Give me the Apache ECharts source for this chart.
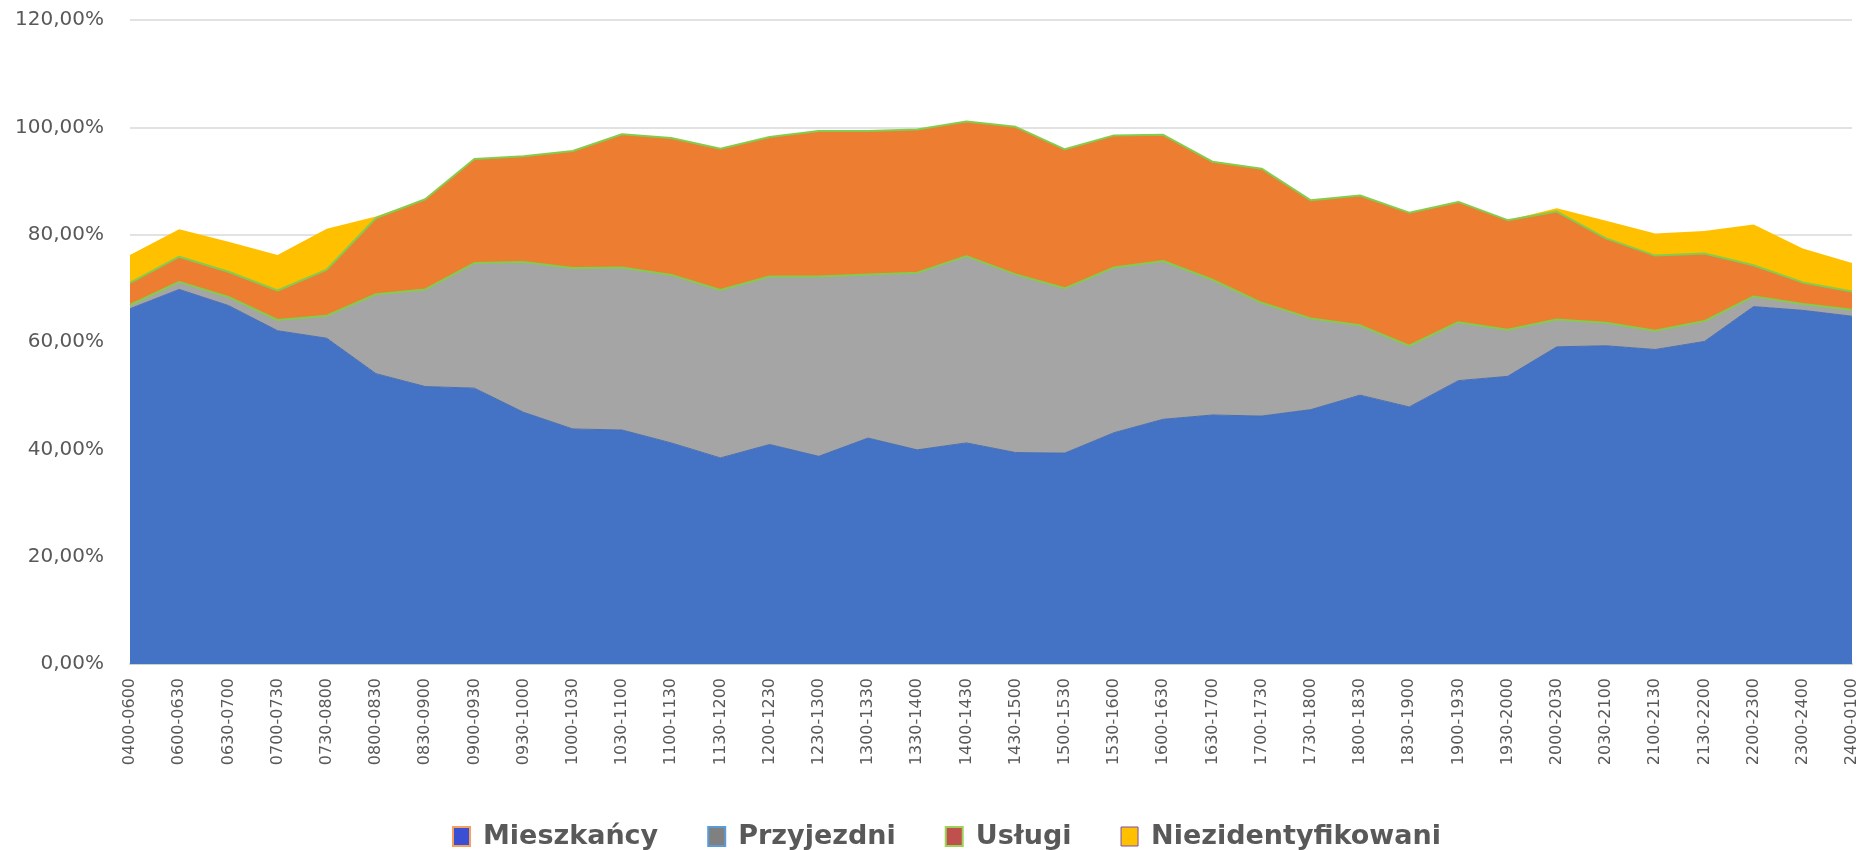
<!DOCTYPE html>
<html>
   <head>
      <meta charset="utf-8">
      <script type="text/javascript" src="https://cdn.jsdelivr.net/npm/echarts@6.0.0/dist/echarts.min.js"></script>
      <title>Struktura obecnych</title>
      <style>
         html, body { margin: 0; padding: 0; background: #ffffff; }
      </style>
   </head>
   <body>
      <div id="chart" style="width:1872px;height:850px"></div>
      <script type="text/javascript">
         // przedzialy czasowe (os X)
         var hours = ["0400-0600", "0600-0630", "0630-0700", "0700-0730", "0730-0800", "0800-0830",
            "0830-0900", "0900-0930", "0930-1000", "1000-1030", "1030-1100", "1100-1130",
            "1130-1200", "1200-1230", "1230-1300", "1300-1330", "1330-1400", "1400-1430",
            "1430-1500", "1500-1530", "1530-1600", "1600-1630", "1630-1700", "1700-1730",
            "1730-1800", "1800-1830", "1830-1900", "1900-1930", "1930-2000", "2000-2030",
            "2030-2100", "2100-2130", "2130-2200", "2200-2300", "2300-2400", "2400-0100"];

         // udzialy w %
         var mieszkancy = [66.2, 69.8, 66.8, 62.1, 60.7, 54.1, 51.7, 51.4, 46.9, 43.8, 43.6, 41.2,
            38.4, 40.9, 38.7, 42.1, 39.9, 41.2, 39.4, 39.3, 43.1, 45.6, 46.4, 46.2,
            47.4, 50.1, 47.9, 52.8, 53.6, 59.1, 59.3, 58.6, 60.1, 66.6, 65.9, 64.8];
         var przyjezdni = [0.7, 1.4, 1.6, 2.0, 4.2, 14.8, 18.1, 23.3, 28.0, 30.0, 30.3, 31.3,
            31.3, 31.3, 33.5, 30.5, 33.0, 34.8, 33.2, 30.7, 30.8, 29.5, 25.2, 21.1,
            17.0, 13.0, 11.4, 10.9, 8.7, 5.1, 4.3, 3.5, 3.8, 1.9, 1.2, 1.2];
         var uslugi = [4.1, 4.7, 4.7, 5.5, 8.6, 14.2, 16.8, 19.4, 19.7, 21.8, 24.8, 25.5,
            26.3, 26.0, 27.1, 26.7, 26.7, 25.1, 27.5, 25.9, 24.6, 23.5, 22.0, 25.0,
            22.0, 24.2, 24.8, 22.4, 20.4, 20.1, 15.7, 14.0, 12.6, 5.8, 4.0, 3.4];
         var niezidentyfikowani = [5.2, 5.1, 5.6, 6.6, 7.6, 0.3, 0, 0, 0, 0, 0, 0,
            0, 0, 0, 0, 0, 0, 0, 0, 0, 0, 0, 0,
            0, 0, 0, 0, 0, 0.6, 3.3, 4.1, 4.2, 7.6, 6.3, 5.3];

         var yTicks = [0, 20, 40, 60, 80, 100, 120];

         var green = "#84cc4e";
         var textColor = "#595959";

         function areaSeries(name, data, color, line){
            return {
               name: name,
               type: "line",
               stack: "total",
               data: data,
               symbol: "none",
               showSymbol: false,
               smooth: false,
               itemStyle: {color: color},
               lineStyle: line,
               areaStyle: {color: color, opacity: 1},
               emphasis: {disabled: true}
            };
         }

         var myChart = echarts.init(document.getElementById("chart"));
         var option = {
            animation: false,
            backgroundColor: "#ffffff",
            grid: {left: 130, right: 20, top: 20, bottom: 186},
            legend: {
               left: 447,
               top: 818,
               itemGap: 49,
               itemWidth: 17,
               itemHeight: 19,
               icon: "rect",
               textStyle: {
                  fontFamily: "DejaVu Sans",
                  fontWeight: "bold",
                  fontSize: 27,
                  color: textColor,
                  padding: [0, 0, 0, 8]
               },
               data: [
                  {name: "Mieszkańcy", itemStyle: {color: "#3b4fd4", borderColor: "#f4a15d", borderWidth: 2}},
                  {name: "Przyjezdni", itemStyle: {color: "#808080", borderColor: "#5b9bd5", borderWidth: 2}},
                  {name: "Usługi", itemStyle: {color: "#c0504d", borderColor: "#9bd35a", borderWidth: 2}},
                  {name: "Niezidentyfikowani", itemStyle: {color: "#ffc000", borderColor: "#7a4fb0", borderWidth: 1}}
               ]
            },
            xAxis: {
               type: "category",
               data: hours,
               boundaryGap: false,
               axisTick: {show: false},
               axisLine: {lineStyle: {color: "#c9d6c6", width: 2}},
               axisLabel: {
                  rotate: 90,
                  interval: 0,
                  margin: 14,
                  fontFamily: "DejaVu Sans",
                  fontSize: 16,
                  color: textColor
               }
            },
            yAxis: {
               type: "value",
               min: yTicks[0],
               max: yTicks[yTicks.length - 1],
               interval: 20,
               axisLine: {show: false},
               axisTick: {show: false},
               splitLine: {lineStyle: {color: "#d9d9d9", width: 1.5}},
               axisLabel: {
                  margin: 26,
                  fontFamily: "DejaVu Sans",
                  fontSize: 20,
                  color: textColor,
                  formatter: function(v){
                     return v.toFixed(2).replace(".", ",") + "%";
                  }
               }
            },
            series: [
               areaSeries("Mieszkańcy", mieszkancy, "#4472c4", {color: "#4a6fae", width: 1}),
               areaSeries("Przyjezdni", przyjezdni, "#a5a5a5", {color: green, width: 2}),
               areaSeries("Usługi", uslugi, "#ed7d31", {color: green, width: 2}),
               areaSeries("Niezidentyfikowani", niezidentyfikowani, "#ffc000", {width: 0})
            ]
         };
         myChart.setOption(option);
      </script>
   </body>
</html>
